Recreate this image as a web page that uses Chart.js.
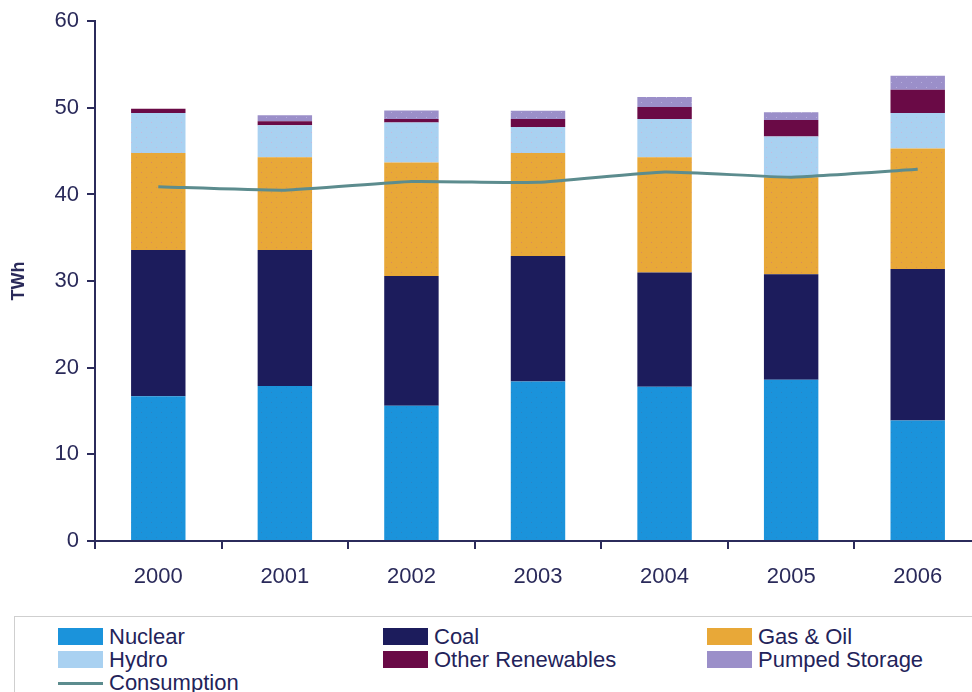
<!DOCTYPE html>
<html>
<head>
<meta charset="utf-8">
<script src="https://cdn.jsdelivr.net/npm/chart.js@4/dist/chart.umd.min.js"></script>
<style>
    html, body { margin: 0; padding: 0; background: #fff; overflow: hidden; }
    body { width: 972px; height: 692px; position: relative; }
    #wrap { position: absolute; left: 0; top: 0; width: 981px; height: 600px; }
    #legend {
        position: absolute; left: 14px; top: 616px; width: 980px; height: 100px;
        border: 1px solid #cfcfcf; box-sizing: border-box;
        font-family: "Liberation Sans", Arial, sans-serif; font-size: 22px; color: #23235a;
    }
    .item { position: absolute; height: 23px; line-height: 23px; white-space: nowrap; }
    .item .sw { position: absolute; left: 0; top: 3px; width: 45px; height: 17px; }
    .item .ln { position: absolute; left: 0; top: 11px; width: 45px; height: 3px; }
    .item span { position: absolute; left: 51px; top: 0; }
</style>
</head>
<body>
<div id="wrap"><canvas id="chart-generation"></canvas></div>
<div id="legend"></div>
<script>
// Electricity generation by fuel, TWh

const years = ['2000', '2001', '2002', '2003', '2004', '2005', '2006'];

const nuclear     = [16.7, 17.9, 15.6, 18.4, 17.8, 18.6, 13.9];
const coal        = [16.9, 15.7, 15.0, 14.5, 13.2, 12.2, 17.5];
const gasOil      = [11.2, 10.7, 13.1, 11.9, 13.3, 11.2, 13.9];
const hydro       = [4.6, 3.7, 4.6, 3.0, 4.4, 4.7, 4.1];
const otherRenew  = [0.5, 0.45, 0.4, 0.9, 1.4, 1.9, 2.7];
const pumped      = [0, 0.7, 1.0, 0.95, 1.15, 0.9, 1.6];
const consumption = [40.9, 40.5, 41.5, 41.4, 42.6, 42.0, 42.9];

const yTicks = [0, 10, 20, 30, 40, 50, 60];

const COLORS = {
    nuclear: '#1b93db',
    coal: '#1c1c5c',
    gas: '#e8a838',
    hydro: '#a9d1f1',
    other: '#6a0a46',
    pumped: '#9b8fc9',
    line: '#5c8c8e',
    axis: '#2b2b5b',
    text: '#2a2a5a'
};

const canvas = document.getElementById('chart-generation');
const ctx = canvas.getContext('2d');

// small speckled fill, like the print-style bars
function speckle(base, dot, spots) {
    const c = document.createElement('canvas');
    c.width = 10; c.height = 10;
    const g = c.getContext('2d');
    g.fillStyle = base;
    g.fillRect(0, 0, 10, 10);
    g.fillStyle = dot;
    spots.forEach(([x, y]) => g.fillRect(x, y, 1, 1));
    return ctx.createPattern(c, 'repeat');
}

const spots = [[1, 2], [6, 7]];
const fills = {
    nuclear: speckle(COLORS.nuclear, '#2a84c4', spots),
    coal: COLORS.coal,
    gas: speckle(COLORS.gas, '#d98a5a', spots),
    hydro: speckle(COLORS.hydro, '#c6b8dc', spots),
    other: COLORS.other,
    pumped: speckle(COLORS.pumped, '#b7aedb', spots)
};

const barSeries = [
    { label: 'Nuclear', data: nuclear, key: 'nuclear' },
    { label: 'Coal', data: coal, key: 'coal' },
    { label: 'Gas & Oil', data: gasOil, key: 'gas' },
    { label: 'Hydro', data: hydro, key: 'hydro' },
    { label: 'Other Renewables', data: otherRenew, key: 'other' },
    { label: 'Pumped Storage', data: pumped, key: 'pumped' }
];

const datasets = barSeries.map(s => ({
    type: 'bar',
    label: s.label,
    data: s.data,
    backgroundColor: fills[s.key],
    borderWidth: 0,
    barPercentage: 0.43,
    categoryPercentage: 1,
    stack: 'gen',
    order: 1
}));

datasets.push({
    type: 'line',
    label: 'Consumption',
    data: consumption,
    borderColor: COLORS.line,
    borderWidth: 3,
    pointRadius: 0,
    tension: 0.15,
    fill: false,
    order: 0
});

const tickFont = { family: '"Liberation Sans", Arial, sans-serif', size: 22 };

new Chart(canvas, {
    type: 'bar',
    data: { labels: years, datasets },
    options: {
        responsive: true,
        maintainAspectRatio: false,
        animation: false,
        layout: { padding: { top: 8, right: 0, bottom: 0, left: 8 } },
        plugins: {
            legend: { display: false },
            tooltip: { enabled: false }
        },
        scales: {
            x: {
                stacked: true,
                offset: true,
                border: { color: COLORS.axis, width: 2 },
                grid: {
                    offset: true,
                    drawOnChartArea: false,
                    drawTicks: true,
                    tickLength: 8,
                    color: COLORS.axis,
                    lineWidth: 2
                },
                ticks: { color: COLORS.text, font: tickFont, padding: 15 },
                afterFit: scale => { scale.height = 59; }
            },
            y: {
                stacked: true,
                min: 0,
                max: 60,
                afterBuildTicks: scale => { scale.ticks = yTicks.map(v => ({ value: v })); },
                border: { color: COLORS.axis, width: 2 },
                grid: {
                    drawOnChartArea: false,
                    drawTicks: true,
                    tickLength: 8,
                    color: COLORS.axis,
                    lineWidth: 2
                },
                ticks: { color: COLORS.text, font: tickFont, padding: 8 },
                title: {
                    display: true,
                    text: 'TWh',
                    color: COLORS.text,
                    font: { family: '"Liberation Sans", Arial, sans-serif', size: 18, weight: 'bold' },
                    padding: { top: 0, bottom: 0 }
                },
                afterFit: scale => { scale.width = 87; }
            }
        }
    }
});

// legend laid out in three columns, same order as the series
const legendItems = [
    ...barSeries.map(s => ({ label: s.label, color: COLORS[s.key], fill: s.key })),
    { label: 'Consumption', color: COLORS.line, line: true }
];
const colX = [43, 368, 692];
const rowY = [8, 31, 54];
const legend = document.getElementById('legend');
legendItems.forEach((it, i) => {
    const div = document.createElement('div');
    div.className = 'item';
    div.style.left = colX[i % 3] + 'px';
    div.style.top = rowY[Math.floor(i / 3)] + 'px';
    const mark = document.createElement('div');
    mark.className = it.line ? 'ln' : 'sw';
    mark.style.background = it.color;
    const txt = document.createElement('span');
    txt.textContent = it.label;
    div.appendChild(mark);
    div.appendChild(txt);
    legend.appendChild(div);
});
</script>
</body>
</html>
